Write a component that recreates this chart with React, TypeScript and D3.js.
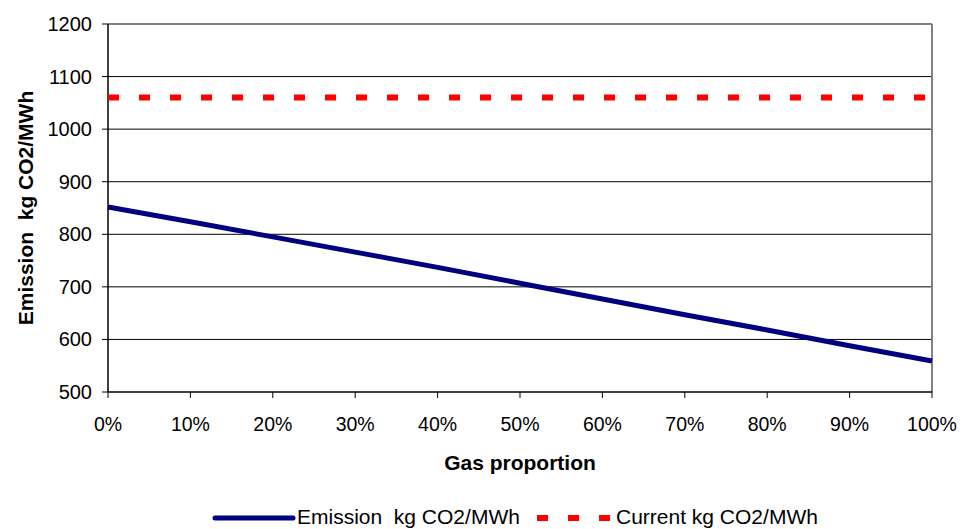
import React from "react";
import * as d3 from "d3";

const gasShare = [0, 0.1, 0.2, 0.3, 0.4, 0.5, 0.6, 0.7, 0.8, 0.9, 1.0];
const emission = [852, 824, 795, 766, 737, 707, 677, 647, 618, 588, 559];
const currentValue = 1060;
const yTicks = [500, 600, 700, 800, 900, 1000, 1100, 1200];
const xTicks = [0, 0.1, 0.2, 0.3, 0.4, 0.5, 0.6, 0.7, 0.8, 0.9, 1.0];
const seriesNames = ["Emission  kg CO2/MWh", "Current kg CO2/MWh"];
const yTitle = "Emission  kg CO2/MWh";
const xTitle = "Gas proportion";

const W = 962, H = 529;
const L = 108, R = 932, T = 24, B = 392;
const font = "'Liberation Sans', Arial, sans-serif";

export default function App() {
  const x = d3.scaleLinear().domain([0, 1]).range([L, R]);
  const y = d3.scaleLinear().domain([500, 1200]).range([B, T]);
  const line = d3.line<number>().x((_, i) => x(gasShare[i])).y((d) => y(d));
  const fmt = d3.format(".0%");
  return (
    <svg width={W} height={H} style={{ position: "absolute", left: 0, top: 0 }} fontFamily={font}>
      <rect width={W} height={H} fill="#fff" />
      {yTicks.filter((v) => v > 500 && v < 1200).map((v) => (
        <line key={v} x1={L} x2={R} y1={y(v)} y2={y(v)} stroke="#000" strokeWidth={1} />
      ))}
      <line x1={L} x2={R} y1={y(1200)} y2={y(1200)} stroke="#808080" strokeWidth={2} />
      <line x1={R} x2={R} y1={T} y2={B} stroke="#808080" strokeWidth={2} />
      <line x1={L} x2={L} y1={T} y2={B} stroke="#000" strokeWidth={1.5} />
      <line x1={L} x2={R} y1={B} y2={B} stroke="#000" strokeWidth={1.5} />
      {yTicks.map((v) => (
        <g key={v}>
          <line x1={L - 6} x2={L} y1={y(v)} y2={y(v)} stroke="#000" strokeWidth={1} />
          <text x={L - 16} y={y(v)} dy="0.35em" textAnchor="end" fontSize={20}>{v}</text>
        </g>
      ))}
      {xTicks.map((v) => (
        <g key={v}>
          <line x1={x(v)} x2={x(v)} y1={B} y2={B + 6} stroke="#000" strokeWidth={1} />
          <text x={x(v)} y={431} textAnchor="middle" fontSize={19.5}>{fmt(v)}</text>
        </g>
      ))}
      <line x1={x(0)} x2={x(1)} y1={y(currentValue)} y2={y(currentValue)} stroke="#FF0000" strokeWidth={6} strokeDasharray="11,20" />
      <path d={line(emission) || ""} fill="none" stroke="#000080" strokeWidth={5} strokeLinejoin="round" />
      <text xmlSpace="preserve" transform={`translate(33,${(T + B) / 2}) rotate(-90)`} textAnchor="middle" fontSize={21} fontWeight="bold">{yTitle}</text>
      <text x={(L + R) / 2} y={470} textAnchor="middle" fontSize={21} fontWeight="bold">{xTitle}</text>
      <line x1={215} x2={293} y1={518} y2={518} stroke="#000080" strokeWidth={5} strokeLinecap="round" />
      <text xmlSpace="preserve" x={297} y={524} fontSize={21}>{seriesNames[0]}</text>
      <line x1={537} x2={610} y1={518} y2={518} stroke="#FF0000" strokeWidth={6} strokeDasharray="11,20" />
      <text xmlSpace="preserve" x={616} y={524} fontSize={21}>{seriesNames[1]}</text>
    </svg>
  );
}
